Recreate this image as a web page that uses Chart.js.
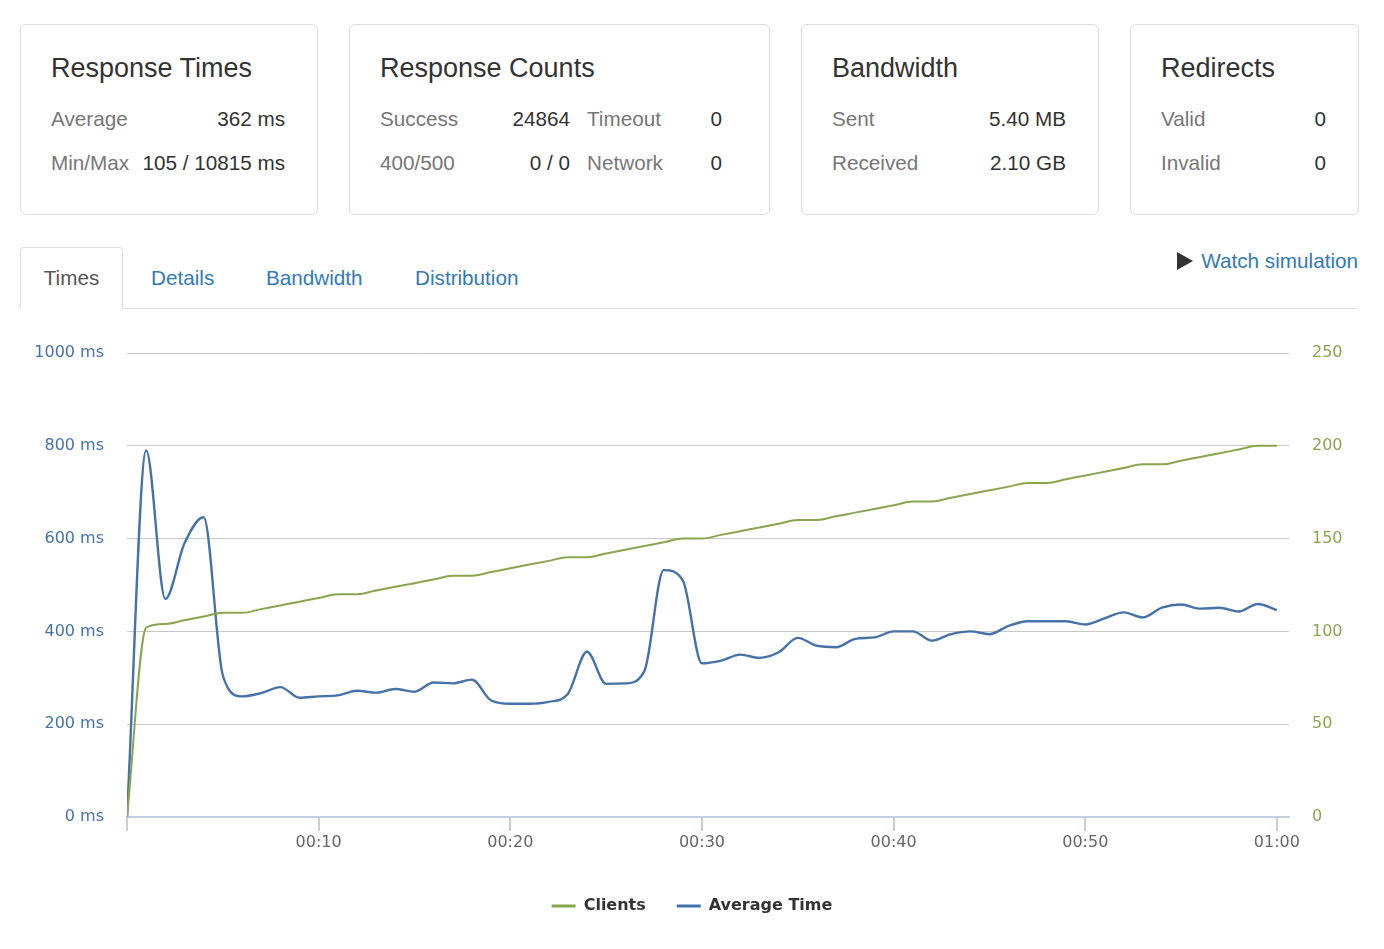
<!DOCTYPE html>
<html>
<head>
<meta charset="utf-8">
<script src="https://cdn.jsdelivr.net/npm/chart.js@4.4.1/dist/chart.umd.min.js"></script>
<style>
  body {
    margin: 0;
    width: 1384px;
    height: 949px;
    background: #fff;
    font-family: 'Liberation Sans', Arial, sans-serif;
    position: relative;
    overflow: hidden;
  }
  .card {
    position: absolute;
    top: 24px;
    height: 191px;
    box-sizing: border-box;
    border: 1px solid #dcdcdc;
    border-radius: 6px;
  }
  .card .title {
    position: absolute;
    left: 30px;
    top: 28px;
    line-height: 30px;
    font-size: 27px;
    color: #333;
    white-space: nowrap;
  }
  .card span {
    position: absolute;
    font-size: 20.7px;
    line-height: 24px;
    white-space: nowrap;
  }
  .lbl { color: #777; }
  .val { color: #333; text-align: right; }
  .r1 { top: 82px; }
  .r2 { top: 126px; }
  .tab-active {
    position: absolute;
    left: 20px;
    top: 247px;
    width: 103px;
    height: 62px;
    box-sizing: border-box;
    border: 1px solid #ddd;
    border-bottom: none;
    border-radius: 4px 4px 0 0;
    background: #fff;
    text-align: center;
    line-height: 60px;
    font-size: 20.7px;
    color: #555;
  }
  .tabline {
    position: absolute;
    left: 122px;
    top: 308px;
    width: 1236px;
    height: 1px;
    background: #ddd;
  }
  .tab {
    position: absolute;
    top: 266px;
    line-height: 24px;
    font-size: 20.7px;
    color: #337ab7;
  }
  .watch {
    position: absolute;
    right: 26px;
    top: 249px;
    line-height: 24px;
    font-size: 20.7px;
    color: #337ab7;
  }
  .watch i {
    display: inline-block;
    width: 0;
    height: 0;
    border-top: 9px solid transparent;
    border-bottom: 9px solid transparent;
    border-left: 16px solid #333;
    margin-right: 8px;
    vertical-align: -2px;
  }
  #chartBox {
    position: absolute;
    left: 0;
    top: 320px;
    width: 1384px;
    height: 604px;
  }
</style>
</head>
<body>

<div class="card" style="left:20px;width:298px;">
  <div class="title">Response Times</div>
  <span class="lbl r1" style="left:30px;">Average</span>
  <span class="val r1" style="right:32px;">362 ms</span>
  <span class="lbl r2" style="left:30px;">Min/Max</span>
  <span class="val r2" style="right:32px;">105 / 10815 ms</span>
</div>

<div class="card" style="left:349px;width:421px;">
  <div class="title">Response Counts</div>
  <span class="lbl r1" style="left:30px;">Success</span>
  <span class="val r1" style="right:199px;">24864</span>
  <span class="lbl r1" style="left:237px;">Timeout</span>
  <span class="val r1" style="right:47px;">0</span>
  <span class="lbl r2" style="left:30px;">400/500</span>
  <span class="val r2" style="right:199px;">0 / 0</span>
  <span class="lbl r2" style="left:237px;">Network</span>
  <span class="val r2" style="right:47px;">0</span>
</div>

<div class="card" style="left:801px;width:298px;">
  <div class="title">Bandwidth</div>
  <span class="lbl r1" style="left:30px;">Sent</span>
  <span class="val r1" style="right:32px;">5.40 MB</span>
  <span class="lbl r2" style="left:30px;">Received</span>
  <span class="val r2" style="right:32px;">2.10 GB</span>
</div>

<div class="card" style="left:1130px;width:229px;">
  <div class="title">Redirects</div>
  <span class="lbl r1" style="left:30px;">Valid</span>
  <span class="val r1" style="right:32px;">0</span>
  <span class="lbl r2" style="left:30px;">Invalid</span>
  <span class="val r2" style="right:32px;">0</span>
</div>

<div class="tabline"></div>
<div class="tab-active">Times</div>
<div class="tab" style="left:151px;">Details</div>
<div class="tab" style="left:266px;">Bandwidth</div>
<div class="tab" style="left:415px;">Distribution</div>
<div class="watch"><i></i>Watch simulation</div>

<div id="chartBox"><canvas id="timesChart"></canvas></div>

<script>
// elapsed time in seconds
const seconds = [
  0, 1, 2, 3, 4, 5, 6, 7, 8, 9, 10, 11, 12, 13, 14, 15, 16, 17, 18, 19, 20,
  21, 22, 23, 24, 25, 26, 27, 28, 29, 30, 31, 32, 33, 34, 35, 36, 37, 38, 39, 40,
  41, 42, 43, 44, 45, 46, 47, 48, 49, 50, 51, 52, 53, 54, 55, 56, 57, 58, 59, 60,
];

// active clients (right axis)
const clients = [
  0, 102, 104, 106, 108, 110, 110, 112, 114, 116, 118, 120, 120, 122, 124, 126,
  128, 130, 130, 132, 134, 136, 138, 140, 140, 142, 144, 146, 148, 150, 150,
  152, 154, 156, 158, 160, 160, 162, 164, 166, 168, 170, 170, 172, 174, 176,
  178, 180, 180, 182, 184, 186, 188, 190, 190, 192, 194, 196, 198, 200, 200,
];

// average response time in ms (left axis)
const avgTime = [
  0, 790, 470, 590, 646, 305, 260, 267, 280, 257, 260, 262, 272, 268, 276, 270,
  290, 288, 296, 251, 244, 244, 248, 265, 356, 287, 288, 315, 532, 510, 331,
  337, 350, 343, 355, 386, 369, 366, 384, 387, 400, 400, 380, 394, 400, 394,
  412, 422, 422, 422, 415, 428, 441, 430, 451, 458, 449, 451, 443, 459, 446,
];

const timeTicks = [0, 10, 20, 30, 40, 50, 60];
const msTicks = [0, 200, 400, 600, 800, 1000];
const clientTicks = [0, 50, 100, 150, 200, 250];

const green = '#89A54E';
const blue = '#4572A7';

function fmtTime(s) {
  const m = Math.floor(s / 60);
  const sec = s % 60;
  return String(m).padStart(2, '0') + ':' + String(sec).padStart(2, '0');
}

Chart.defaults.font.family = "'DejaVu Sans', Verdana, sans-serif";

const ctx = document.getElementById('timesChart').getContext('2d');
new Chart(ctx, {
  type: 'line',
  data: {
    datasets: [
      {
        label: 'Clients',
        data: seconds.map((s, i) => ({ x: s, y: clients[i] })),
        yAxisID: 'yClients',
        borderColor: green,
        backgroundColor: green,
        borderWidth: 2,
        pointRadius: 0,
        cubicInterpolationMode: 'monotone',
        fill: false,
      },
      {
        label: 'Average Time',
        data: seconds.map((s, i) => ({ x: s, y: avgTime[i] })),
        yAxisID: 'yTime',
        borderColor: blue,
        backgroundColor: blue,
        borderWidth: 2.4,
        pointRadius: 0,
        cubicInterpolationMode: 'monotone',
        fill: false,
      },
    ],
  },
  options: {
    responsive: true,
    maintainAspectRatio: false,
    animation: false,
    layout: { padding: { top: 33, left: 0, right: 0, bottom: 0 } },
    plugins: {
      tooltip: { enabled: false },
      legend: {
        position: 'bottom',
        labels: {
          boxWidth: 24,
          boxHeight: 3,
          padding: 31,
          color: '#333',
          font: { size: 16, weight: 'bold' },
          generateLabels: (chart) =>
            Chart.defaults.plugins.legend.labels
              .generateLabels(chart)
              .map((l) => ({ ...l, lineWidth: 0 })),
        },
      },
    },
    scales: {
      x: {
        type: 'linear',
        min: 0,
        max: 60.63,
        afterFit: (scale) => { scale.height = 50; },
        afterBuildTicks: (scale) => { scale.ticks = timeTicks.map((v) => ({ value: v })); },
        border: { color: '#C0D0E0', width: 2 },
        grid: {
          drawOnChartArea: false,
          drawTicks: true,
          tickLength: 14,
          tickColor: '#C0D0E0',
          lineWidth: 2,
        },
        ticks: {
          color: '#666',
          font: { size: 16 },
          padding: 2,
          maxRotation: 0,
          callback: (v) => (v === 0 ? '' : fmtTime(v)),
        },
      },
      yTime: {
        position: 'left',
        min: 0,
        max: 1000,
        afterFit: (scale) => { scale.width = 127; },
        afterBuildTicks: (scale) => { scale.ticks = msTicks.map((v) => ({ value: v })); },
        border: { display: false },
        grid: {
          color: (c) => (c.tick && c.tick.value === 0 ? 'rgba(0,0,0,0)' : '#C8C8C8'),
          lineWidth: 1,
          drawTicks: false,
        },
        ticks: {
          color: blue,
          font: { size: 16 },
          padding: 23,
          callback: (v) => v + ' ms',
        },
      },
      yClients: {
        position: 'right',
        min: 0,
        max: 250,
        afterFit: (scale) => { scale.width = 95; },
        afterBuildTicks: (scale) => { scale.ticks = clientTicks.map((v) => ({ value: v })); },
        border: { display: false },
        grid: { drawOnChartArea: false, drawTicks: false },
        ticks: {
          color: green,
          font: { size: 16 },
          padding: 23,
        },
      },
    },
  },
});
</script>
</body>
</html>
